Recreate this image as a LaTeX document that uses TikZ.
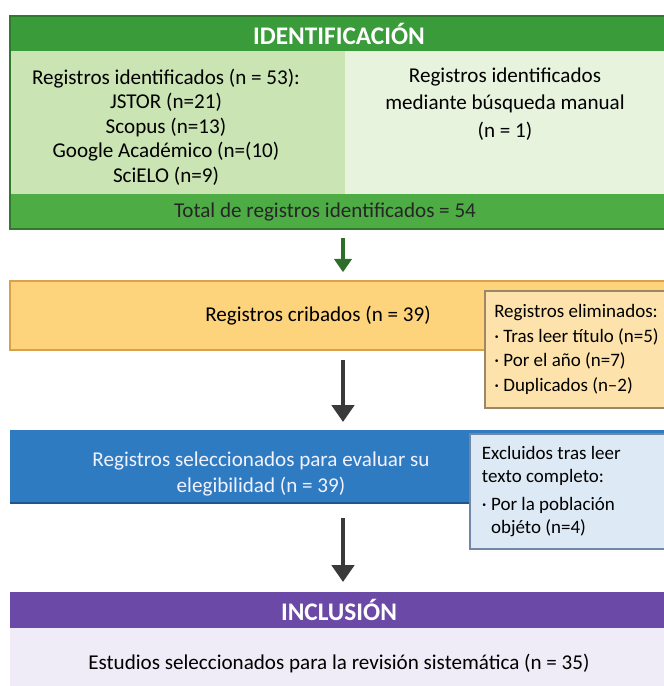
\documentclass[tikz,border=0pt]{standalone}
\usepackage{fontspec}
\setmainfont{Carlito}
\usetikzlibrary{arrows.meta}

\definecolor{idgreen}{HTML}{3A9B3A}
\definecolor{idband}{HTML}{4EAC45}
\definecolor{idleftfill}{HTML}{CAE4B4}
\definecolor{idrightfill}{HTML}{E8F3DD}
\definecolor{idframe}{HTML}{2F7A2E}
\definecolor{cribfill}{HTML}{FDD47C}
\definecolor{cribframe}{HTML}{D9A24A}
\definecolor{elimfill}{HTML}{FDE3AB}
\definecolor{elimframe}{HTML}{9C8868}
\definecolor{selfill}{HTML}{2F7BC1}
\definecolor{selframe}{HTML}{1E568F}
\definecolor{exclfill}{HTML}{DDE9F5}
\definecolor{exclframe}{HTML}{7088A6}
\definecolor{incfill}{HTML}{6B49A7}
\definecolor{incbodyfill}{HTML}{F0ECF7}
\definecolor{arrowgray}{HTML}{3A3A3A}
\definecolor{arrowgreen}{HTML}{2C6E2A}

\tikzset{
  panel/.style={rectangle, inner sep=0pt, outer sep=0pt},
  txt/.style={font=\fontsize{15}{17.5}\selectfont, align=center, inner sep=0pt},
  headtxt/.style={font=\fontsize{18}{21}\selectfont\bfseries, text=white},
  sidetxt/.style={font=\fontsize{13.5}{17.5}\selectfont, align=flush left},
  flow/.style={line width=3.5pt, -{Triangle[width=0.55cm,length=0.42cm]}},
}

\begin{document}
\begin{tikzpicture}[x=0.025cm,y=-0.025cm]
\useasboundingbox (0,0) rectangle (664,686);

% identificacion
\node[panel, fill=idgreen, minimum width=16.45cm, minimum height=0.875cm, headtxt] (idhead) at (339,33.5) {IDENTIFICACIÓN};
\node[panel, fill=idleftfill, minimum width=8.375cm, minimum height=3.575cm] (idleft) at (177.5,122.5) {};
\node[panel, fill=idrightfill, minimum width=8.075cm, minimum height=3.575cm] (idright) at (506.5,122.5) {};
\node[panel, fill=idband, minimum width=16.45cm, minimum height=0.875cm] (idtotal) at (339,211.5) {};
\draw[idframe, line width=1pt] (idhead.north west) rectangle (idtotal.south east);
\node[txt, text=black!85] (total) at (325,212) {Total de registros identificados = 54};
\node[txt] (bases) at (166,127) {Registros identificados (n = 53):\\ JSTOR (n=21)\\ Scopus (n=13)\\ Google Académico (n=(10)\\ SciELO (n=9)};
\node[txt, font=\fontsize{15}{19.5}\selectfont] (manual) at (505,104) {Registros identificados\\ mediante búsqueda manual\\ (n = 1)};

% cribado
\node[panel, fill=cribfill, draw=cribframe, line width=1pt, minimum width=16.45cm, minimum height=1.725cm] (crib) at (339,315.5) {};
\node[txt] (cribtxt) at (318,316) {Registros cribados (n = 39)};
\node[panel, fill=elimfill, draw=elimframe, line width=1pt, minimum width=4.575cm, minimum height=2.925cm, sidetxt] (elim) at (576.5,349.5) {Registros eliminados:\\ · Tras leer título (n=5)\\ · Por el año (n=7)\\ · Duplicados (n–2)};

% elegibilidad
\node[panel, fill=selfill, minimum width=16.45cm, minimum height=1.825cm] (sel) at (339,466.5) {};
\draw[selframe, line width=2pt] (sel.south west) -- (sel.south east);
\node[txt, text=white!95!blue, font=\fontsize{15}{18.5}\selectfont] (seltxt) at (261,474) {Registros seleccionados para evaluar su\\ elegibilidad (n = 39)};
\node[panel, fill=exclfill, draw=exclframe, line width=1pt, minimum width=4.95cm, minimum height=2.875cm, sidetxt, text width=4.35cm, font=\fontsize{13.5}{16.5}\selectfont] (excl) at (569,491.5) {Excluidos tras leer\\ texto completo:\\[3pt] · Por la población\\ \phantom{· }objéto (n=4)};

% inclusion
\node[panel, fill=incfill, minimum width=16.45cm, minimum height=0.9cm, headtxt] (inchead) at (339,610) {INCLUSIÓN};
\node[panel, fill=incbodyfill, minimum width=16.45cm, minimum height=1.75cm, txt] (incbody) at (339,663) {Estudios seleccionados para la revisión sistemática (n = 35)};

% flechas
\coordinate (spine) at (343,0);
\draw[line width=3pt, arrowgreen, -{Triangle[width=0.43cm,length=0.33cm]}, shorten <=0.22cm, shorten >=0.22cm] (idtotal.south -| spine) -- (crib.north -| spine);
\draw[flow, arrowgray, shorten <=0.25cm, shorten >=0.2cm] (crib.south -| spine) -- (sel.north -| spine);
\draw[flow, arrowgray, shorten <=0.375cm, shorten >=0.25cm] (sel.south -| spine) -- (inchead.north -| spine);
\end{tikzpicture}
\end{document}
